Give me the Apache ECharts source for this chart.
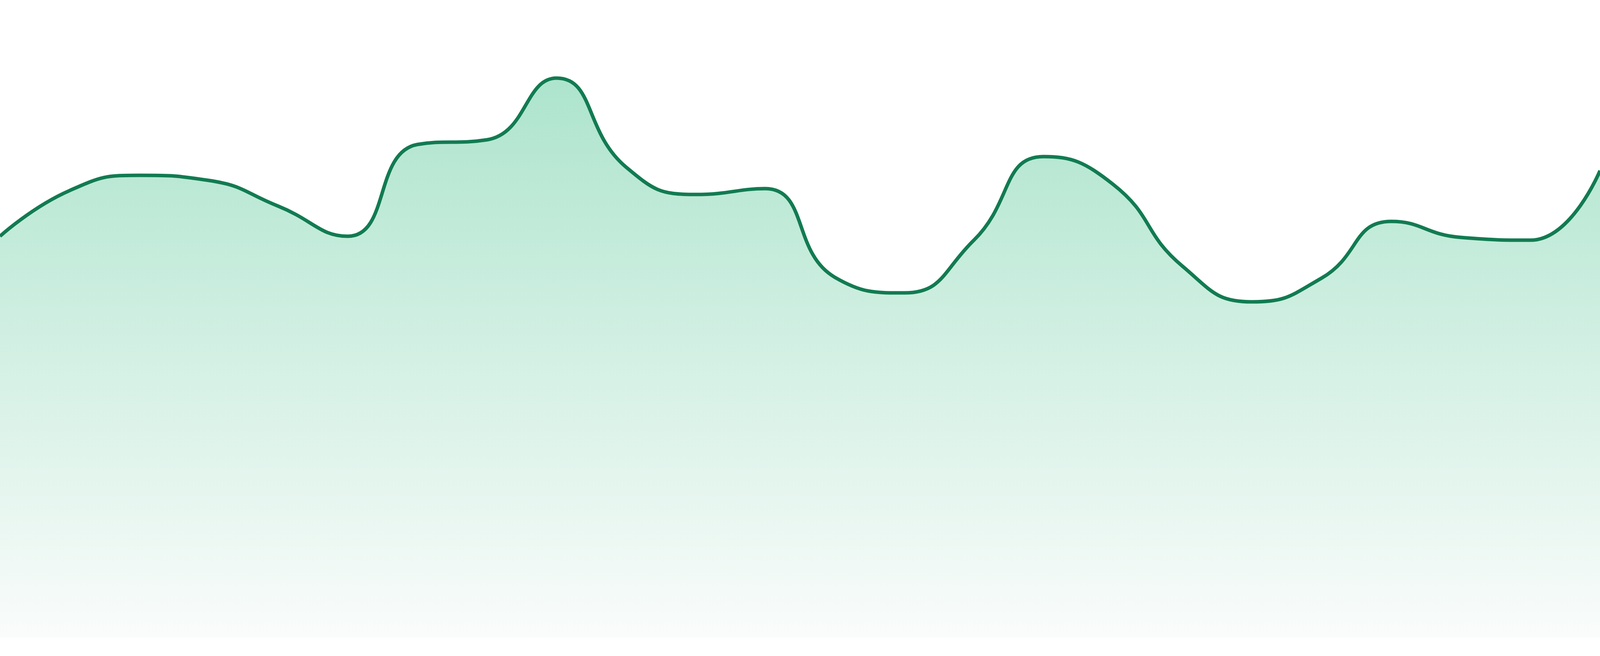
<!DOCTYPE html>
<html>
<head>
<meta charset="utf-8">
<script src="https://cdn.jsdelivr.net/npm/echarts@6/dist/echarts.min.js"></script>
<style>
html,body{margin:0;padding:0;background:#ffffff;overflow:hidden;width:100%;height:100%;}
#chart{width:100vw;height:100vh;}
</style>
</head>
<body>
<div id="chart"></div>
<script>
const categories = ['1','2','3','4','5','6','7','8','9','10','11','12','13','14','15','16','17','18','19','20','21','22','23','24'];
const values = [102.8, 114.5, 118.4, 117.1, 110.5, 102.8, 126.3, 127.5, 143.3, 120.5, 113.5, 115.0,
                 92.3, 88.3, 101.8, 123.2, 116.1, 95.1, 86.0, 92.1, 106.6, 102.5, 101.8, 119.6];

const chart = echarts.init(document.getElementById('chart'), null, {renderer: 'canvas'});
chart.setOption({
  animation: false,
  backgroundColor: '#ffffff',
  grid: {left: 0, right: 0, top: '7.92%', bottom: '2.8%', containLabel: false},
  xAxis: {
    type: 'category',
    data: categories,
    boundaryGap: false,
    show: false
  },
  yAxis: {
    type: 'value',
    min: 0,
    max: 150,
    show: false
  },
  series: [{
    type: 'line',
    data: values,
    smooth: true,
    symbol: 'none',
    lineStyle: {color: '#127b52', width: 9},
    areaStyle: {
      opacity: 1,
      color: new echarts.graphic.LinearGradient(0, 0, 0, 1, [
        {offset: 0, color: '#ade4cd'},
        {offset: 1, color: '#fafcfb'}
      ])
    }
  }]
});
window.addEventListener('resize', () => chart.resize());
</script>
</body>
</html>
